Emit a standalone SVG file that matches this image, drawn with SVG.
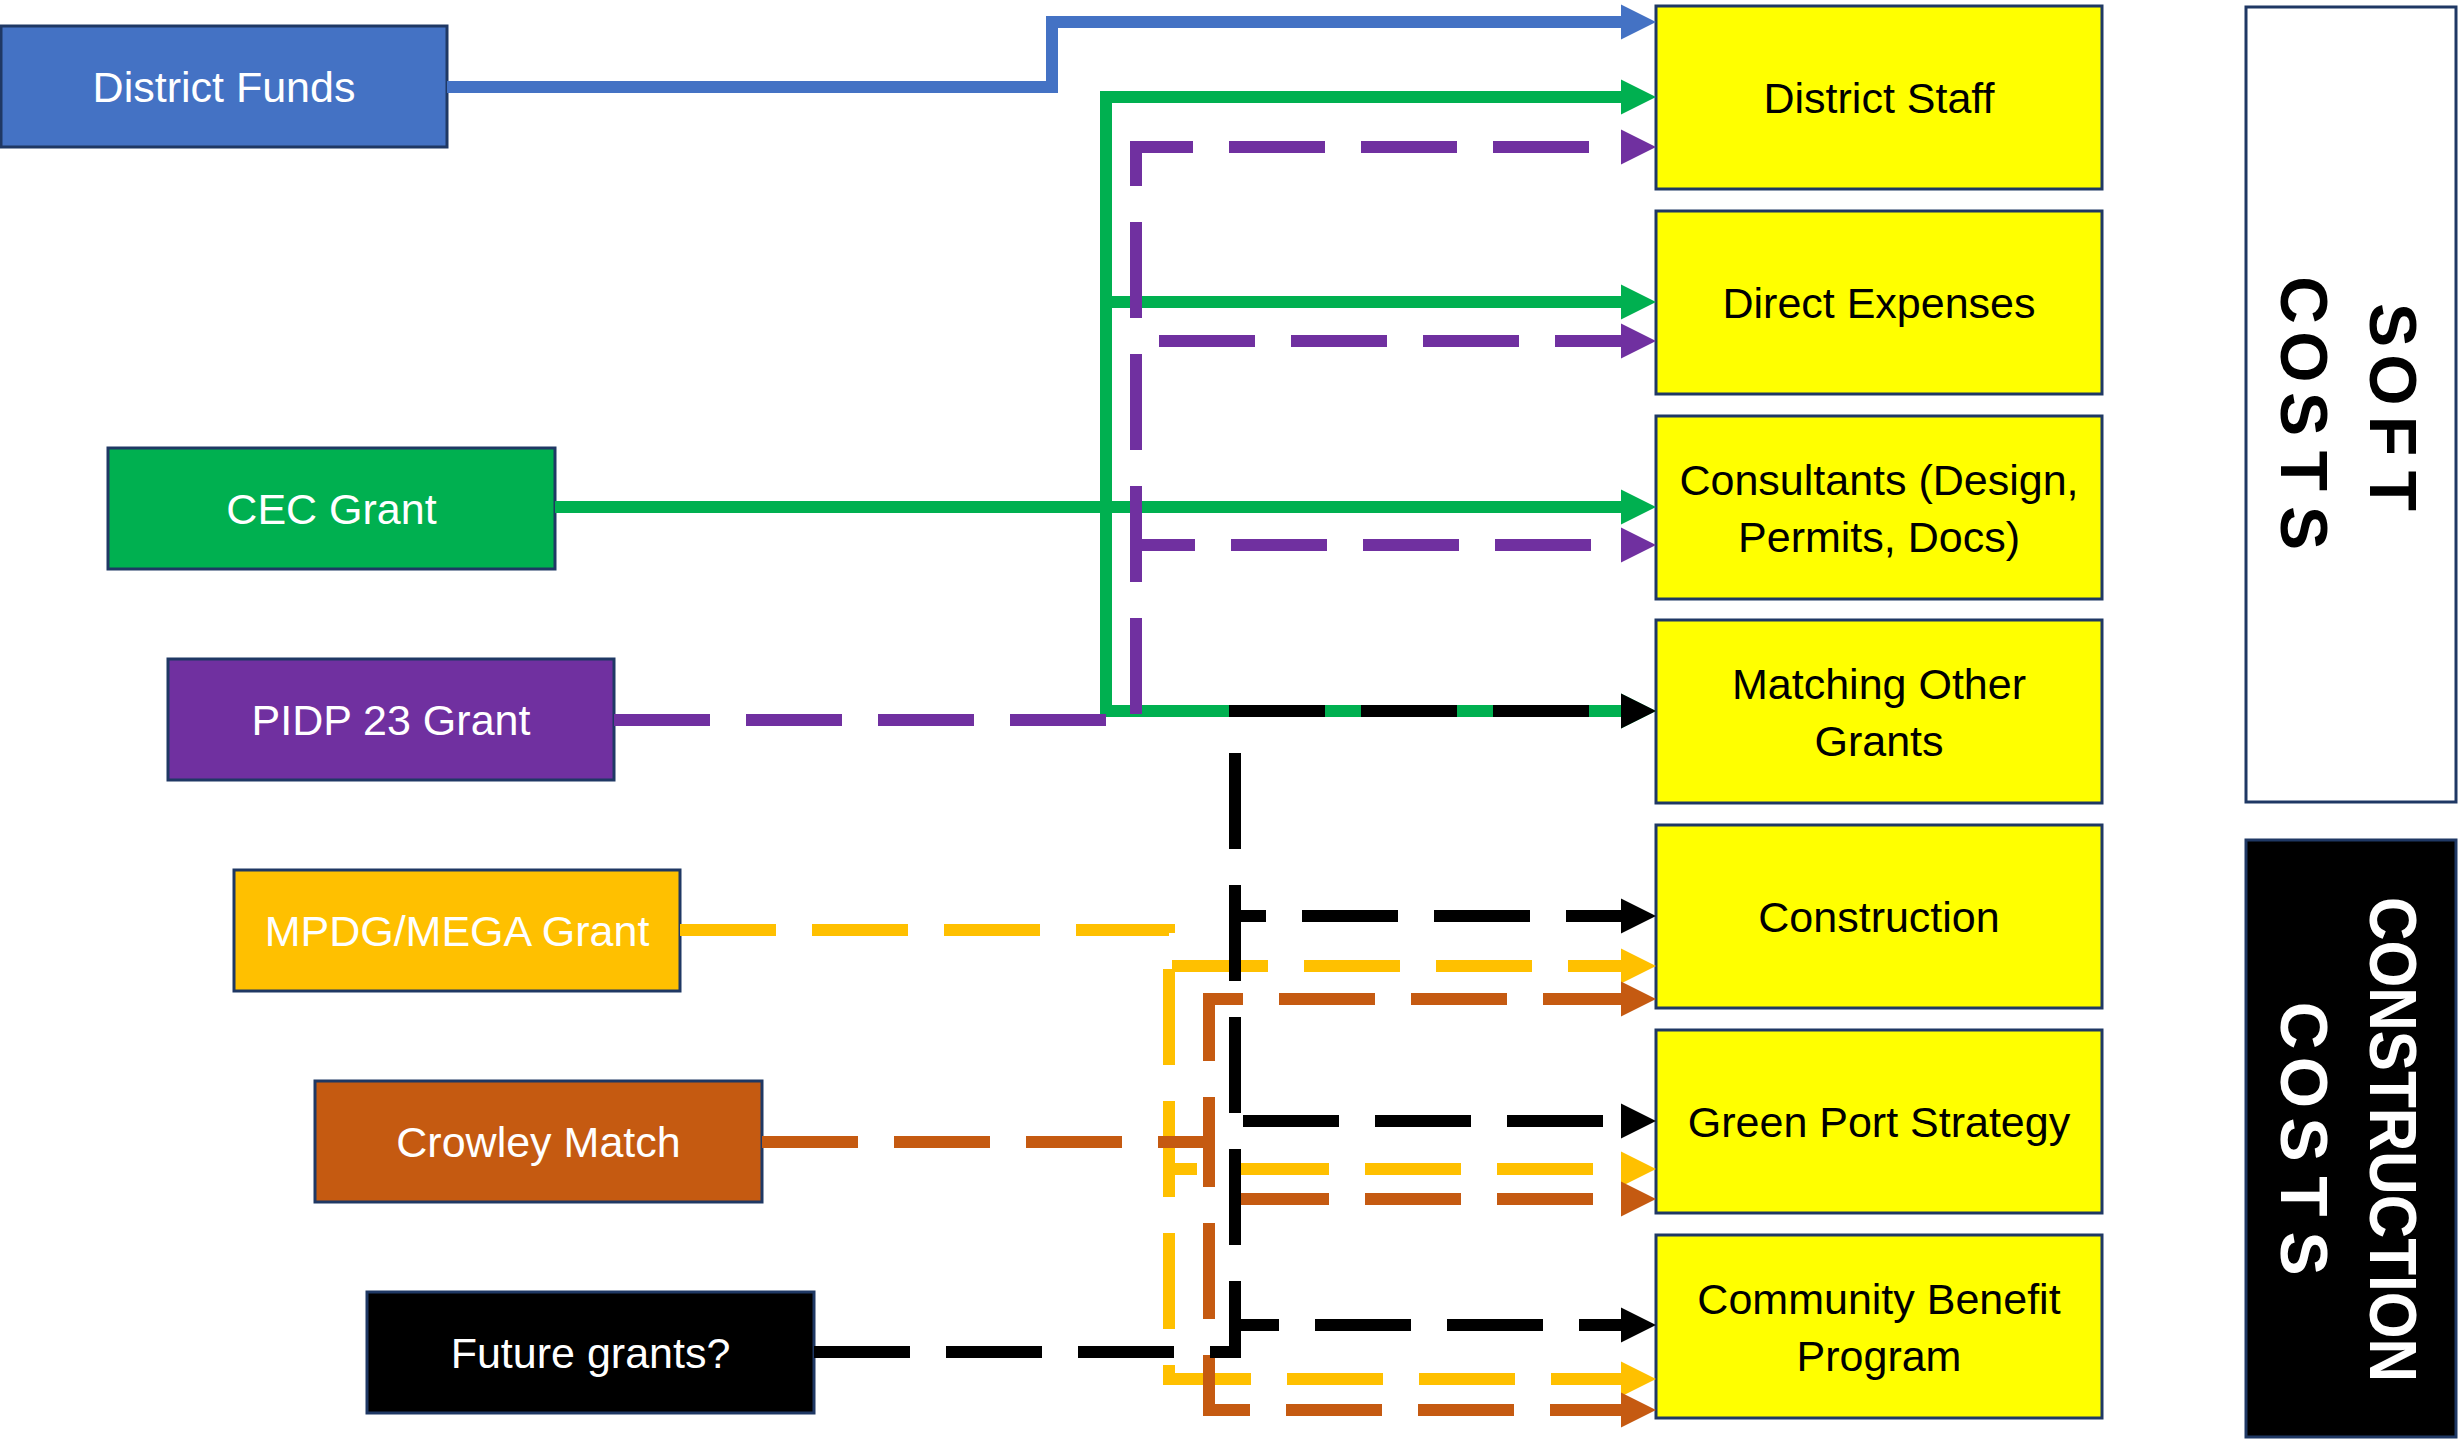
<svg xmlns="http://www.w3.org/2000/svg" width="2458" height="1440" viewBox="0 0 2458 1440">
<style>
.src{stroke:#1F3864;stroke-width:3}
.tgt{fill:#FFFF00;stroke:#1F3864;stroke-width:3}
.st{font-family:"Liberation Sans",Arial,sans-serif;font-size:43px;fill:#FFFFFF;text-anchor:middle}
.tt{font-family:"Liberation Sans",Arial,sans-serif;font-size:43px;fill:#000000;text-anchor:middle}
.big{font-family:"Liberation Sans",Arial,sans-serif;font-size:66px;font-weight:bold;text-anchor:middle}
.c{fill:none;stroke-width:12;stroke-linecap:butt;stroke-linejoin:miter}
.d{stroke-dasharray:96 36}
</style>
<defs>
<marker id="mBlue" markerUnits="userSpaceOnUse" markerWidth="36" markerHeight="36" refX="0" refY="18" orient="auto" overflow="visible"><path d="M0,0.5 L35,18 L0,35.5 Z" fill="#4472C4"/></marker>
<marker id="mGreen" markerUnits="userSpaceOnUse" markerWidth="36" markerHeight="36" refX="0" refY="18" orient="auto" overflow="visible"><path d="M0,0.5 L35,18 L0,35.5 Z" fill="#00B050"/></marker>
<marker id="mPurple" markerUnits="userSpaceOnUse" markerWidth="36" markerHeight="36" refX="0" refY="18" orient="auto" overflow="visible"><path d="M0,0.5 L35,18 L0,35.5 Z" fill="#7030A0"/></marker>
<marker id="mYellow" markerUnits="userSpaceOnUse" markerWidth="36" markerHeight="36" refX="0" refY="18" orient="auto" overflow="visible"><path d="M0,0.5 L35,18 L0,35.5 Z" fill="#FFC000"/></marker>
<marker id="mOrange" markerUnits="userSpaceOnUse" markerWidth="36" markerHeight="36" refX="0" refY="18" orient="auto" overflow="visible"><path d="M0,0.5 L35,18 L0,35.5 Z" fill="#C55A11"/></marker>
<marker id="mBlack" markerUnits="userSpaceOnUse" markerWidth="36" markerHeight="36" refX="0" refY="18" orient="auto" overflow="visible"><path d="M0,0.5 L35,18 L0,35.5 Z" fill="#000000"/></marker>
</defs>
<rect width="2458" height="1440" fill="#FFFFFF"/>

<!-- side category boxes -->
<g id="soft-costs">
<rect x="2246" y="7" width="210" height="795" fill="#FFFFFF" stroke="#1F3864" stroke-width="3"/>
<text class="big" fill="#000000" transform="translate(2370,0) rotate(90)" x="325 380 436 491" y="0">SOFT</text>
<text class="big" fill="#000000" transform="translate(2281,0) rotate(90)" x="300 357 414 471 528" y="0">COSTS</text>
</g>
<g id="construction-costs">
<rect x="2246" y="840" width="210" height="597" fill="#000000" stroke="#1F3864" stroke-width="3"/>
<text class="big" fill="#FFFFFF" transform="translate(2370,0) rotate(90)" x="1139.5" y="0" textLength="485" lengthAdjust="spacingAndGlyphs">CONSTRUCTION</text>
<text class="big" fill="#FFFFFF" transform="translate(2281,0) rotate(90)" x="1025.5 1082.5 1139.5 1196.5 1253.5" y="0">COSTS</text>
</g>

<!-- source nodes -->
<g id="district-funds"><rect class="src" x="1" y="26" width="446" height="121" fill="#4472C4"/><text class="st" x="224" y="102">District Funds</text></g>
<g id="cec-grant"><rect class="src" x="108" y="448" width="447" height="121" fill="#00B050"/><text class="st" x="331.5" y="524">CEC Grant</text></g>
<g id="pidp-grant"><rect class="src" x="168" y="659" width="446" height="121" fill="#7030A0"/><text class="st" x="391" y="735">PIDP 23 Grant</text></g>
<g id="mpdg-grant"><rect class="src" x="234" y="870" width="446" height="121" fill="#FFC000"/><text class="st" x="457" y="946">MPDG/MEGA Grant</text></g>
<g id="crowley-match"><rect class="src" x="315" y="1081" width="447" height="121" fill="#C55A11"/><text class="st" x="538.5" y="1157">Crowley Match</text></g>
<g id="future-grants"><rect class="src" x="367" y="1292" width="447" height="121" fill="#000000"/><text class="st" x="590.5" y="1368">Future grants?</text></g>

<!-- target nodes -->
<g id="district-staff"><rect class="tgt" x="1656" y="6" width="446" height="183"/><text class="tt" x="1879" y="113">District Staff</text></g>
<g id="direct-expenses"><rect class="tgt" x="1656" y="211" width="446" height="183"/><text class="tt" x="1879" y="318">Direct Expenses</text></g>
<g id="consultants"><rect class="tgt" x="1656" y="416" width="446" height="183"/><text class="tt" x="1879" y="495">Consultants (Design,</text><text class="tt" x="1879" y="552">Permits, Docs)</text></g>
<g id="matching"><rect class="tgt" x="1656" y="620" width="446" height="183"/><text class="tt" x="1879" y="699">Matching Other</text><text class="tt" x="1879" y="756">Grants</text></g>
<g id="construction"><rect class="tgt" x="1656" y="825" width="446" height="183"/><text class="tt" x="1879" y="932">Construction</text></g>
<g id="green-port"><rect class="tgt" x="1656" y="1030" width="446" height="183"/><text class="tt" x="1879" y="1137">Green Port Strategy</text></g>
<g id="community-benefit"><rect class="tgt" x="1656" y="1235" width="446" height="183"/><text class="tt" x="1879" y="1314">Community Benefit</text><text class="tt" x="1879" y="1371">Program</text></g>

<!-- connectors -->
<g id="connectors">
<path class="c" stroke="#4472C4" marker-end="url(#mBlue)" d="M447,87 H1052 V22 H1621"/>

<path class="c" stroke="#00B050" marker-end="url(#mGreen)" d="M555,507 H1621"/>
<path class="c" stroke="#00B050" marker-end="url(#mGreen)" d="M1106,507 V97 H1621"/>
<path class="c" stroke="#00B050" marker-end="url(#mGreen)" d="M1106,302 H1621"/>
<path class="c" stroke="#00B050" marker-end="url(#mGreen)" d="M1106,507 V711 H1621"/>

<path class="c d" stroke="#7030A0" marker-end="url(#mPurple)" d="M614,720 H1136 V147 H1621"/>
<path class="c d" stroke="#7030A0" marker-end="url(#mPurple)" d="M614,720 H1136 V341 H1621"/>
<path class="c d" stroke="#7030A0" marker-end="url(#mPurple)" d="M614,720 H1136 V545 H1621"/>

<path class="c d" stroke="#FFC000" marker-end="url(#mYellow)" d="M680,930 H1169 V966 H1621"/>
<path class="c d" stroke="#FFC000" marker-end="url(#mYellow)" d="M680,930 H1169 V1169 H1621"/>
<path class="c d" stroke="#FFC000" marker-end="url(#mYellow)" d="M680,930 H1169 V1379 H1621"/>

<path class="c d" stroke="#C55A11" marker-end="url(#mOrange)" d="M762,1142 H1209 V999 H1621"/>
<path class="c d" stroke="#C55A11" marker-end="url(#mOrange)" d="M762,1142 H1209 V1199 H1621"/>
<path class="c d" stroke="#C55A11" marker-end="url(#mOrange)" d="M762,1142 H1209 V1410 H1621"/>

<path class="c d" stroke="#000000" marker-end="url(#mBlack)" d="M814,1352 H1235 V711 H1621"/>
<path class="c d" stroke="#000000" marker-end="url(#mBlack)" d="M814,1352 H1235 V916 H1621"/>
<path class="c d" stroke="#000000" marker-end="url(#mBlack)" d="M814,1352 H1235 V1121 H1621"/>
<path class="c d" stroke="#000000" marker-end="url(#mBlack)" d="M814,1352 H1235 V1325 H1621"/>
</g>
</svg>
